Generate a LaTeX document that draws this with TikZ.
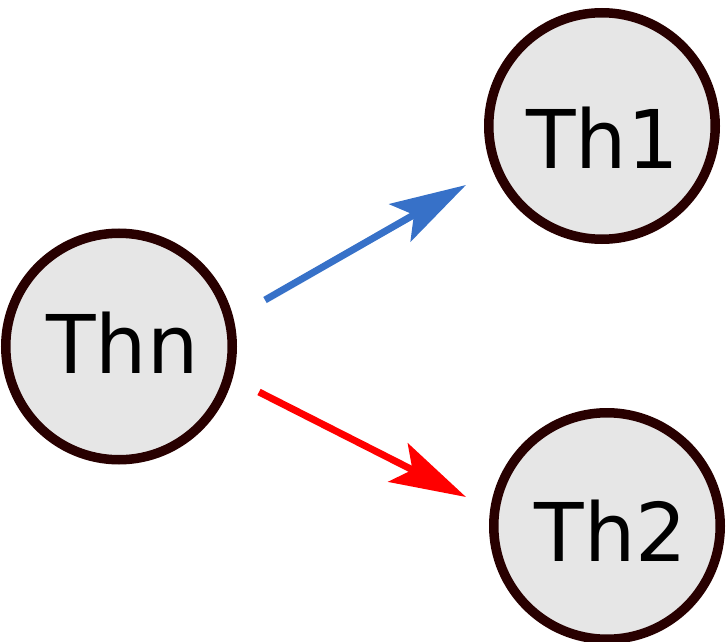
\documentclass[tikz,border=0pt]{standalone}
\usepackage{fontspec}
\setmainfont{DejaVu Sans}
\usetikzlibrary{arrows.meta}
\definecolor{ringc}{HTML}{280000}
\definecolor{fillc}{HTML}{E6E6E6}
\definecolor{bluec}{HTML}{3771C8}
\begin{document}
\begin{tikzpicture}[x=1pt,y=-1pt,
  ring/.style={circle,draw=ringc,fill=fillc,line width=9.5pt,minimum size=226.5pt,inner sep=0pt},
  lbl/.style={anchor=base,inner sep=0pt,font=\fontsize{81}{81}\selectfont},
  conn/.style={line width=7pt,-{Stealth[length=76pt,width=43pt,inset=16pt]}}]
\useasboundingbox (0,0) rectangle (726,642);
\node[ring] (thn) at (119,346.5) {};
\node[ring] (th1) at (602,126) {};
\node[ring] (th2) at (607,526) {};
\node[lbl] (thnt) at (122.5,373) {Thn};
\node[lbl] (th1t) at (602.5,168) {Th1};
\node[lbl] (th2t) at (611,561) {Th2};
\coordinate (b0) at (265,300);
\coordinate (b1) at (466,185);
\coordinate (r0) at (259,392);
\coordinate (r1) at (466,497);
\draw[conn,bluec] (b0) -- (b1);
\draw[conn,red] (r0) -- (r1);
\end{tikzpicture}
\end{document}
